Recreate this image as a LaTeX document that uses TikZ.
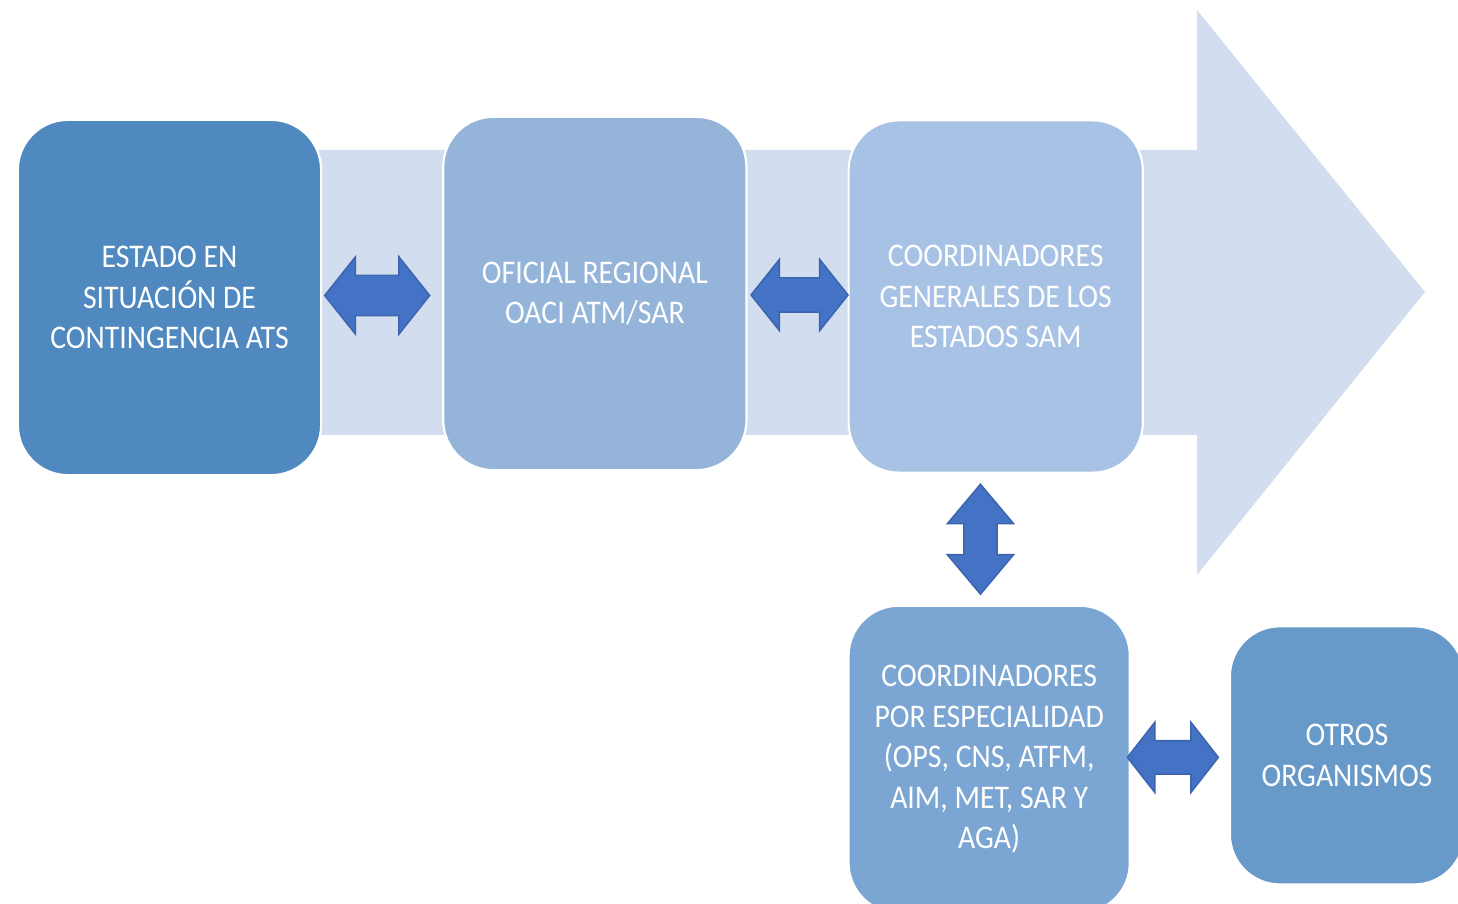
\documentclass[tikz,border=0pt]{standalone}
\usepackage{fontspec}
\setmainfont[FakeStretch=0.9]{Carlito}
\usepackage{tikz}
\usetikzlibrary{calc, positioning, shapes.arrows}

\definecolor{flecha}{HTML}{D2DEEF}
\definecolor{estadoazul}{HTML}{4F89BF}
\definecolor{oficialazul}{HTML}{94B4DA}
\definecolor{samazul}{HTML}{A7C2E4}
\definecolor{espazul}{HTML}{7BA5D2}
\definecolor{otrosazul}{HTML}{6799C9}
\definecolor{dobleazul}{HTML}{4472C4}
\definecolor{dobleborde}{HTML}{3B64AD}

\begin{document}
\begin{tikzpicture}[x=0.01cm,y=-0.01cm,node distance=1.2cm]
			\tikzstyle{caja}=[rectangle,rounded corners=0.5cm,draw=white,line width=0.6pt,text=white,align=center,inner sep=0pt,font=\fontsize{9.4}{11.5}\selectfont]
			\tikzstyle{doble}=[double arrow,fill=dobleazul,draw=dobleborde,line width=0.4pt,double arrow head indent=0pt]
			
			\clip (0,0) rectangle (1458,904);
			
			% flecha de fondo
			\fill[flecha] (160,150) -- (1197,150) -- (1197,10) -- (1425,292) -- (1197,575) -- (1197,435) -- (160,435) -- cycle;
			
			\node[caja,fill=estadoazul,minimum width=3.03cm,minimum height=3.55cm] (estado) at (169.5,297.5) {ESTADO EN\\SITUACIÓN DE\\CONTINGENCIA ATS};
			\node[caja,fill=oficialazul,minimum width=3.03cm,minimum height=3.53cm,yshift=0.04cm] (oficial) [right=of estado] {OFICIAL REGIONAL\\OACI ATM/SAR};
			\node[caja,fill=samazul,minimum width=2.94cm,minimum height=3.52cm,yshift=-0.03cm] (sam) [right=1.0cm of oficial] {COORDINADORES\\GENERALES DE LOS\\ESTADOS SAM};
			\node[caja,fill=espazul,minimum width=2.81cm,minimum height=3.07cm] (esp) [below=1.31cm of sam.south west,anchor=north west] {COORDINADORES\\POR ESPECIALIDAD\\(OPS, CNS, ATFM,\\AIM, MET, SAR Y\\AGA)};
			\node[caja,fill=otrosazul,minimum width=2.34cm,minimum height=2.58cm,yshift=0.04cm] (otros) [right=0.98cm of esp] {OTROS\\ORGANISMOS};
			
			% flechas dobles
			\node[doble,inner sep=0.195cm,minimum height=1.05cm,double arrow head extend=0.185cm,double arrow tip angle=103] (d12) at ($(estado.east)!0.5!(oficial.west)+(-5,0)$) {};
			\node[doble,inner sep=0.165cm,minimum height=0.97cm,double arrow head extend=0.185cm,double arrow tip angle=103] (d23) at ($(oficial.east)!0.5!(sam.west)+(2,0)$) {};
			\node[doble,shape border rotate=90,inner sep=0.16cm,minimum height=1.10cm,double arrow head extend=0.165cm,double arrow tip angle=80] (d34) at ($(sam.south)!0.5!(esp.north)+(-12,0)$) {};
			\node[doble,inner sep=0.16cm,minimum height=0.91cm,double arrow head extend=0.185cm,double arrow tip angle=104] (d45) at ($(esp.east)!0.5!(otros.west)+(-7,0)$) {};
		\end{tikzpicture}
\end{document}
